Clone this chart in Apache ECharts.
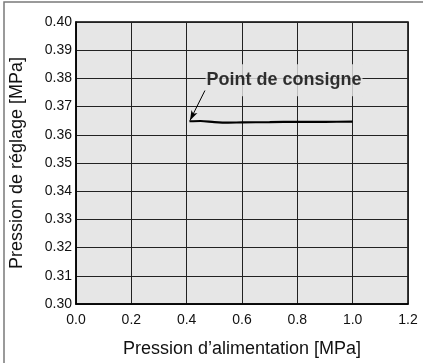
<!DOCTYPE html>
<html><head><meta charset="utf-8">
<script src="https://cdn.jsdelivr.net/npm/echarts@6/dist/echarts.min.js"></script>
<style>html,body{margin:0;padding:0;background:#fff}#c{width:423px;height:363px}</style>
</head><body><div id="c"></div>
<script>
const supplyPressure = [0.41, 0.45, 0.50, 0.55, 0.60, 0.70, 0.80, 0.90, 1.00];
const setPressure    = [0.3648, 0.3649, 0.3645, 0.3643, 0.3644, 0.3645, 0.3646, 0.3646, 0.3647];
const annotationText = 'Point de consigne';
const annotationPos  = [0.752, 0.3793];
const arrowFrom      = [0.466, 0.3757];
const arrowTo        = [0.412, 0.3651];
const xTitle = 'Pression d\u2019alimentation [MPa]';
const yTitle = 'Pression de réglage [MPa]';

const FONT = '"Liberation Sans", Arial, Helvetica, sans-serif';
const chart = echarts.init(document.getElementById('c'), null, {renderer:'canvas'});
chart.setOption({
  animation:false,
  backgroundColor:'#fff',
  graphic:[{type:'rect', shape:{x:4, y:2, width:440, height:380}, style:{fill:'none', stroke:'#7a7a7a', lineWidth:1.5}, z:0}],
  grid:{left:76, right:15, top:22, bottom:58, show:true, backgroundColor:'#e6e6e6', borderColor:'#000', borderWidth:1.5},
  xAxis:{type:'value', min:0, max:1.2, interval:0.2,
    name:xTitle, nameLocation:'middle', nameGap:36,
    nameTextStyle:{fontFamily:FONT, fontSize:18, color:'#111'},
    axisLine:{show:true, lineStyle:{color:'#000', width:1.5}}, axisTick:{show:false},
    axisLabel:{fontFamily:FONT, fontSize:14, color:'#111', margin:9, formatter:v=>v.toFixed(1)},
    splitLine:{show:true, lineStyle:{color:'#222', width:1}}},
  yAxis:{type:'value', min:0.30, max:0.40, interval:0.01,
    name:yTitle, nameLocation:'middle', nameGap:50,
    nameTextStyle:{fontFamily:FONT, fontSize:18, color:'#111'},
    axisLine:{show:true, lineStyle:{color:'#000', width:1.5}}, axisTick:{show:false},
    axisLabel:{fontFamily:FONT, fontSize:14, color:'#111', margin:4, formatter:v=>v.toFixed(2)},
    splitLine:{show:true, lineStyle:{color:'#222', width:1}}},
  series:[
    {type:'scatter', z:2, silent:true, symbolSize:0, data:[annotationPos],
      label:{show:true, position:'inside', formatter:annotationText, fontFamily:FONT, fontSize:18, fontWeight:'bold', color:'#000',
        backgroundColor:'#e6e6e6', padding:[0,1,14,1]}},
    {type:'line', z:4, smooth:0.3, symbol:'none', data:supplyPressure.map((x,i)=>[x,setPressure[i]]),
      lineStyle:{color:'#000', width:2.2}},
    {type:'line', z:5, data:[], markLine:{silent:true, symbol:['none','arrow'], symbolSize:[5,10], label:{show:false},
      lineStyle:{color:'#000', width:1, type:'solid'}, data:[[{coord:arrowFrom},{coord:arrowTo}]]}}
  ]
});
</script></body></html>
